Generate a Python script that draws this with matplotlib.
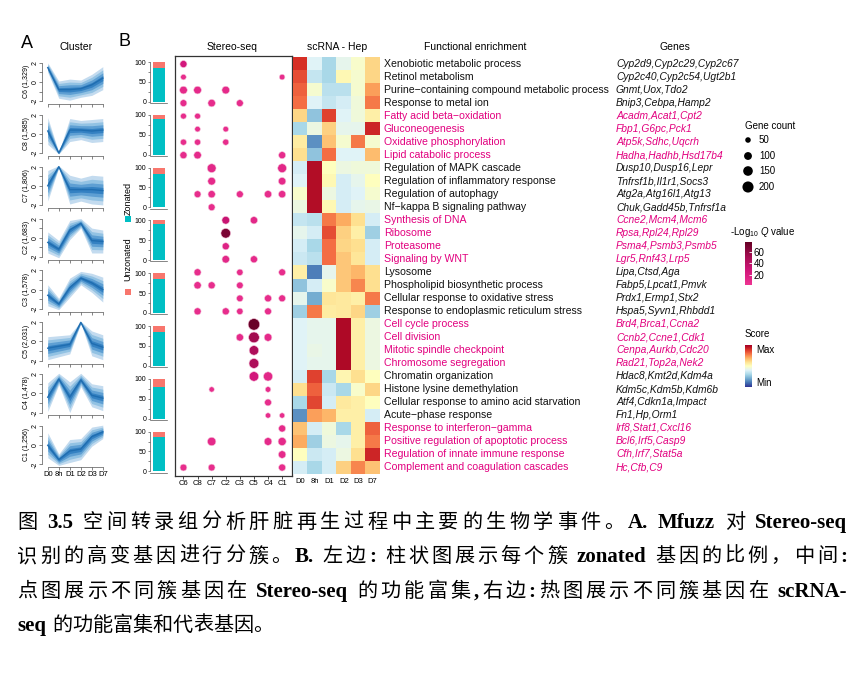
import numpy as np
import matplotlib
matplotlib.use('Agg')
import matplotlib.pyplot as plt
from matplotlib.colors import LinearSegmentedColormap, Normalize
from matplotlib.cm import ScalarMappable

plt.rcParams['font.family'] = ['Liberation Sans', 'DejaVu Sans']
plt.rcParams['mathtext.fontset'] = 'custom'
plt.rcParams['mathtext.rm'] = 'Liberation Sans'
plt.rcParams['mathtext.it'] = 'Liberation Sans:italic'

# ---------------- data ----------------
clusters = ['C6', 'C8', 'C7', 'C2', 'C3', 'C5', 'C4', 'C1']
cluster_sizes = ['1,329', '1,585', '1,806', '1,683', '1,578', '2,031', '1,478', '1,256']
timepoints = ['D0', '8h', 'D1', 'D2', 'D3', 'D7']

profile_C6 = [1.5, -0.8, -0.8, -0.7, -0.3, 0.4]
profile_C8 = [0.3, -2.0, 0.4, 0.4, 0.3, 0.4]
profile_C7 = [0.0, 2.0, -0.4, -0.4, -0.4, -0.5]
profile_C2 = [-0.5, -1.2, 0.8, 1.5, -0.3, -0.4]
profile_C3 = [-0.6, -1.5, 0.2, 1.2, 0.7, 0.0]
profile_C5 = [-0.7, -0.5, -0.3, 2.0, -0.2, -0.6]
profile_C4 = [-0.4, 1.5, -0.4, 1.4, -0.2, -0.5]
profile_C1 = [0.0, -1.5, -0.6, -0.4, 0.9, 1.4]

spread_C6 = [0.5, 0.9, 1.1, 0.9, 1.1, 1.2]
spread_C8 = [1.4, 0.1, 1.2, 1.0, 1.2, 1.2]
spread_C7 = [1.6, 0.1, 1.5, 1.2, 1.5, 1.5]
spread_C2 = [1.1, 0.9, 1.0, 0.5, 1.3, 1.2]
spread_C3 = [1.1, 0.6, 1.0, 0.7, 1.0, 1.3]
spread_C5 = [1.2, 1.1, 1.0, 0.1, 1.3, 1.3]
spread_C4 = [1.5, 0.6, 1.6, 0.7, 1.2, 1.3]
spread_C1 = [1.3, 0.6, 1.2, 1.1, 1.0, 0.7]

profiles = [profile_C6, profile_C8, profile_C7, profile_C2, profile_C3, profile_C5, profile_C4, profile_C1]
spreads = [spread_C6, spread_C8, spread_C7, spread_C2, spread_C3, spread_C5, spread_C4, spread_C1]

zonated_pct = [85, 89, 84, 91, 86, 84, 80, 86]

terms = [
    'Xenobiotic metabolic process', 'Retinol metabolism',
    'Purine\u2212containing compound metabolic process', 'Response to metal ion',
    'Fatty acid beta\u2212oxidation', 'Gluconeogenesis', 'Oxidative phosphorylation',
    'Lipid catabolic process', 'Regulation of MAPK cascade',
    'Regulation of inflammatory response', 'Regulation of autophagy',
    'Nf\u2212kappa B signaling pathway', 'Synthesis of DNA', 'Ribosome', 'Proteasome',
    'Signaling by WNT', 'Lysosome', 'Phospholipid biosynthetic process',
    'Cellular response to oxidative stress', 'Response to endoplasmic reticulum stress',
    'Cell cycle process', 'Cell division', 'Mitotic spindle checkpoint',
    'Chromosome segregation', 'Chromatin organization', 'Histone lysine demethylation',
    'Cellular response to amino acid starvation', 'Acute\u2212phase response',
    'Response to interferon\u2212gamma', 'Positive regulation of apoptotic process',
    'Regulation of innate immune response', 'Complement and coagulation cascades']

genes = [
    'Cyp2d9,Cyp2c29,Cyp2c67', 'Cyp2c40,Cyp2c54,Ugt2b1', 'Gnmt,Uox,Tdo2', 'Bnip3,Cebpa,Hamp2',
    'Acadm,Acat1,Cpt2', 'Fbp1,G6pc,Pck1', 'Atp5k,Sdhc,Uqcrh', 'Hadha,Hadhb,Hsd17b4',
    'Dusp10,Dusp16,Lepr', 'Tnfrsf1b,Il1r1,Socs3', 'Atg2a,Atg16l1,Atg13', 'Chuk,Gadd45b,Tnfrsf1a',
    'Ccne2,Mcm4,Mcm6', 'Rpsa,Rpl24,Rpl29', 'Psma4,Psmb3,Psmb5', 'Lgr5,Rnf43,Lrp5',
    'Lipa,Ctsd,Aga', 'Fabp5,Lpcat1,Pmvk', 'Prdx1,Ermp1,Stx2', 'Hspa5,Syvn1,Rhbdd1',
    'Brd4,Brca1,Ccna2', 'Ccnb2,Ccne1,Cdk1', 'Cenpa,Aurkb,Cdc20', 'Rad21,Top2a,Nek2',
    'Hdac8,Kmt2d,Kdm4a', 'Kdm5c,Kdm5b,Kdm6b', 'Atf4,Cdkn1a,Impact', 'Fn1,Hp,Orm1',
    'Irf8,Stat1,Cxcl16', 'Bcl6,Irf5,Casp9', 'Cfh,Irf7,Stat5a', 'Hc,Cfb,C9']

highlight_terms = [4, 5, 6, 7, 12, 13, 14, 15, 20, 21, 22, 23, 28, 29, 30, 31]

dot_row = [0, 1, 1, 2, 2, 2, 3, 3, 3, 4, 4, 5, 5, 6, 6, 6, 7, 7, 7, 8, 8, 9, 9,
           10, 10, 10, 10, 10, 11, 12, 12, 13, 14, 15, 15, 16, 16, 16, 17, 17, 17,
           18, 18, 18, 19, 19, 19, 19, 20, 21, 21, 21, 22, 23, 24, 24, 25, 25, 26,
           27, 27, 28, 29, 29, 29, 30, 31, 31, 31]
dot_cluster = ['C6', 'C6', 'C1', 'C6', 'C8', 'C2', 'C6', 'C7', 'C3', 'C6', 'C8', 'C8', 'C2',
               'C6', 'C8', 'C2', 'C6', 'C8', 'C1', 'C7', 'C1', 'C7', 'C1',
               'C8', 'C7', 'C3', 'C4', 'C1', 'C7', 'C2', 'C5', 'C2', 'C2', 'C2', 'C5',
               'C8', 'C3', 'C1', 'C8', 'C7', 'C3', 'C3', 'C4', 'C1', 'C8', 'C2', 'C3', 'C4',
               'C5', 'C3', 'C5', 'C4', 'C5', 'C5', 'C5', 'C4', 'C7', 'C4', 'C4',
               'C4', 'C1', 'C1', 'C7', 'C4', 'C1', 'C1', 'C6', 'C7', 'C1']
dot_count = [80, 50, 50, 95, 95, 95, 75, 90, 75, 55, 55, 50, 50, 60, 60, 60, 80, 90, 80,
             125, 125, 95, 90, 75, 85, 75, 85, 85, 75, 95, 85, 150, 80, 90, 80,
             80, 65, 75, 85, 80, 70, 70, 80, 75, 80, 80, 65, 75,
             215, 85, 185, 95, 145, 155, 145, 135, 45, 50, 75,
             45, 45, 80, 115, 95, 105, 90, 75, 75, 80]
dot_q = [25, 8, 8, 10, 10, 10, 9, 9, 9, 8, 8, 7, 7, 8, 8, 8, 9, 10, 9,
         12, 12, 10, 10, 8, 8, 8, 8, 8, 8, 32, 12, 68, 16, 12, 10,
         8, 8, 8, 8, 8, 8, 8, 8, 8, 8, 8, 8, 8,
         75, 10, 52, 10, 46, 46, 26, 12, 8, 8, 8,
         8, 8, 10, 10, 10, 10, 10, 8, 8, 8]

score_rows = [
    [0.90, 0.40, 0.30, 0.42, 0.48, 0.62],
    [0.85, 0.35, 0.30, 0.52, 0.47, 0.62],
    [0.82, 0.47, 0.33, 0.33, 0.47, 0.72],
    [0.80, 0.40, 0.35, 0.38, 0.45, 0.78],
    [0.62, 0.25, 0.87, 0.40, 0.45, 0.55],
    [0.30, 0.44, 0.63, 0.42, 0.42, 0.92],
    [0.56, 0.15, 0.66, 0.47, 0.78, 0.47],
    [0.60, 0.25, 0.80, 0.40, 0.40, 0.67],
    [0.38, 0.97, 0.50, 0.44, 0.45, 0.45],
    [0.40, 0.97, 0.52, 0.38, 0.42, 0.50],
    [0.48, 0.97, 0.44, 0.38, 0.40, 0.47],
    [0.44, 0.97, 0.52, 0.38, 0.42, 0.43],
    [0.35, 0.33, 0.78, 0.70, 0.60, 0.38],
    [0.42, 0.38, 0.85, 0.63, 0.55, 0.28],
    [0.38, 0.30, 0.80, 0.62, 0.60, 0.38],
    [0.36, 0.33, 0.80, 0.65, 0.58, 0.38],
    [0.55, 0.12, 0.42, 0.65, 0.68, 0.60],
    [0.25, 0.38, 0.48, 0.65, 0.76, 0.60],
    [0.42, 0.20, 0.58, 0.57, 0.55, 0.78],
    [0.28, 0.78, 0.56, 0.57, 0.62, 0.28],
    [0.40, 0.42, 0.42, 0.98, 0.55, 0.44],
    [0.40, 0.42, 0.42, 0.98, 0.55, 0.44],
    [0.40, 0.43, 0.42, 0.98, 0.55, 0.44],
    [0.40, 0.42, 0.42, 0.98, 0.55, 0.44],
    [0.38, 0.87, 0.30, 0.53, 0.60, 0.50],
    [0.60, 0.82, 0.36, 0.30, 0.48, 0.62],
    [0.30, 0.86, 0.38, 0.57, 0.55, 0.50],
    [0.15, 0.72, 0.68, 0.55, 0.55, 0.38],
    [0.66, 0.38, 0.45, 0.30, 0.55, 0.82],
    [0.70, 0.28, 0.44, 0.42, 0.55, 0.78],
    [0.50, 0.36, 0.38, 0.44, 0.60, 0.92],
    [0.38, 0.30, 0.38, 0.63, 0.76, 0.66]]

legend_counts = [50, 100, 150, 200]
q_ticks = [20, 40, 60]

caption_lines = [
    '图 3.5 空间转录组分析肝脏再生过程中主要的生物学事件。A. Mfuzz 对 Stereo-seq',
    '识别的高变基因进行分簇。B. 左边: 柱状图展示每个簇 zonated 基因的比例，中间:',
    '点图展示不同簇基因在 Stereo-seq 的功能富集,右边:热图展示不同簇基因在 scRNA-',
    'seq 的功能富集和代表基因。']

# ---------------- style ----------------
W, H = 865, 675
PINK = '#E2007F'
TEAL = '#00BFC4'
SALMON = '#F8766D'
band_colors = ['#c3dbef', '#92c2e3', '#5e9fd3', '#3481c2']
band_levels = [1.0, 0.72, 0.46, 0.22]
line_color = '#1f6db0'
cmap_q = LinearSegmentedColormap.from_list('q', ['#EE3492', '#D1167A', '#A30C50', '#650024'])
q_norm = Normalize(2, 77)

fig = plt.figure(figsize=(W / 100, H / 100), dpi=100)


def ax_px(x0, y0, x1, y1):
    return fig.add_axes([x0 / W, 1 - y1 / H, (x1 - x0) / W, (y1 - y0) / H])


def ftxt(x, y, s, **kw):
    return fig.text(x / W, 1 - y / H, s, **kw)


# ---------------- panel A ----------------
ftxt(27, 44, 'A', fontsize=13, ha='center', va='center')
ftxt(76, 47, 'Cluster', fontsize=7.5, ha='center', va='center')
xt = np.arange(len(timepoints))
for i, (name, size, cen, spr) in enumerate(zip(clusters, cluster_sizes, profiles, spreads)):
    bottom = 104 + 51.9 * i
    ax = ax_px(45, bottom - 45, 105, bottom)
    cen = np.array(cen)
    spr = np.array(spr)
    for f, col in zip(band_levels, band_colors):
        ax.fill_between(xt, cen - f * spr, cen + f * spr, color=col, lw=0)
    ax.plot(xt, cen, color=line_color, lw=1.0)
    ax.set_xlim(-0.25, 5.2)
    ax.set_ylim(-2.3, 2.4)
    for s in ['top', 'right']:
        ax.spines[s].set_visible(False)
    ax.spines['left'].set_position(('outward', 2))
    ax.spines['left'].set_bounds(-2, 2)
    ax.spines['bottom'].set_bounds(0, 5)
    for s in ['left', 'bottom']:
        ax.spines[s].set_linewidth(0.5)
        ax.spines[s].set_color('#555555')
    ax.set_yticks([-2, -1, 0, 1, 2])
    ax.set_yticklabels(['-2', '', '0', '', '2'])
    ax.tick_params(axis='y', labelsize=5, length=2, width=0.5, pad=0.5, labelrotation=90,
                   color='#555555')
    for lab in ax.get_yticklabels():
        lab.set_va('center')
    ax.set_xticks(xt)
    if i == len(clusters) - 1:
        ax.set_xticklabels(timepoints)
    else:
        ax.set_xticklabels([])
    ax.tick_params(axis='x', labelsize=5.5, length=2, width=0.5, pad=1, color='#555555')
    ax.set_ylabel(f'{name} ({size})', fontsize=5, labelpad=1)

# ---------------- panel B: bars ----------------
ftxt(124, 42, 'B', fontsize=13, ha='center', va='center')
for i, pct in enumerate(zonated_pct):
    zero = 101 + 52.8 * i
    ax = ax_px(150, zero + 1.9 - 44, 167, zero + 1.9)
    ax.bar(0, pct, width=1, color=TEAL, lw=0)
    ax.bar(0, 100 - pct, bottom=pct, width=1, color=SALMON, lw=0)
    ax.set_xlim(-0.75, 0.67)
    ax.set_ylim(-3, 108)
    for s in ['top', 'right']:
        ax.spines[s].set_visible(False)
    ax.spines['left'].set_bounds(0, 100)
    for s in ['left', 'bottom']:
        ax.spines[s].set_linewidth(0.5)
        ax.spines[s].set_color('#555555')
    ax.set_yticks([0, 50, 100])
    ax.set_yticks([25, 75], minor=True)
    ax.tick_params(axis='y', which='both', labelsize=5, length=1.5, width=0.5, pad=1,
                   color='#555555')
    ax.set_xticks([])

# legend for bars
ftxt(128, 198, 'Zonated', rotation=90, fontsize=6.5, ha='center', va='center')
ftxt(128, 259, 'Unzonated', rotation=90, fontsize=6.5, ha='center', va='center')

# ---------------- dot plot ----------------
axd = ax_px(175, 56, 292, 476)
cl_index = {c: k for k, c in enumerate(clusters)}
dx = [cl_index[c] for c in dot_cluster]
axd.scatter(dx, dot_row, s=np.array(dot_count) * 0.32, c=dot_q, cmap=cmap_q, norm=q_norm,
            edgecolors='#f7c3dc', linewidths=0.4, zorder=3)
axd.set_xlim(-0.6, 7.7)
axd.set_ylim(31.65, -0.62)
axd.set_xticks(range(len(clusters)))
axd.set_xticklabels(clusters)
axd.tick_params(axis='x', labelsize=5.5, length=2, width=0.5, pad=1)
axd.yaxis.tick_right()
axd.set_yticks(range(len(terms)))
axd.set_yticklabels([])
axd.tick_params(axis='y', length=2, width=0.5, color='#888888')
for s in axd.spines.values():
    s.set_linewidth(0.9)
    s.set_color('#333333')
ftxt(232, 47, 'Stereo-seq', fontsize=7.5, ha='center', va='center')

# ---------------- heatmap ----------------
axh = ax_px(293, 57, 380, 474)
axh.imshow(np.array(score_rows), cmap='RdYlBu_r', vmin=0, vmax=1, aspect='auto',
           interpolation='nearest')
axh.set_xticks(range(len(timepoints)))
axh.set_xticklabels(timepoints)
axh.tick_params(axis='x', labelsize=5.5, length=0, pad=3)
axh.set_yticks([])
for s in axh.spines.values():
    s.set_visible(False)
ftxt(337, 47, 'scRNA - Hep', fontsize=7.5, ha='center', va='center')

# ---------------- term and gene labels ----------------
ftxt(475, 47, 'Functional enrichment', fontsize=7.5, ha='center', va='center')
ftxt(675, 47, 'Genes', fontsize=7.5, ha='center', va='center')
for i, (t, g) in enumerate(zip(terms, genes)):
    col = PINK if i in highlight_terms else '#111111'
    y = 64 + 13.0 * i
    ftxt(384, y, t, fontsize=7.6, color=col, va='center', ha='left')
    ftxt(616, y, g, fontsize=7.4, color=col, va='center', ha='left', style='italic')

# ---------------- legends ----------------
ov = fig.add_axes([0, 0, 1, 1])
ov.set_xlim(0, W)
ov.set_ylim(H, 0)
ov.axis('off')
ov.patch.set_alpha(0)
ov.scatter([128, 128], [219, 292], marker='s', s=14, color=[TEAL, SALMON], lw=0)
ftxt(770, 126, 'Gene count', fontsize=7, ha='center', va='center')
leg_y = [140, 156, 171, 187]
ov.scatter([748] * 4, leg_y, s=np.array(legend_counts) * 0.32, color='black', lw=0)
for yy, c in zip(leg_y, legend_counts):
    ftxt(759, yy, str(c), fontsize=7, va='center', ha='left')

ftxt(730, 232, r'-Log$_{10}$ $Q$ value', fontsize=7, va='center', ha='left')
caxq = ax_px(745, 242, 752, 285)
cbq = fig.colorbar(ScalarMappable(norm=q_norm, cmap=cmap_q), cax=caxq, ticks=q_ticks)
cbq.outline.set_visible(False)
caxq.tick_params(labelsize=7, length=2.5, width=0.6, color='white', direction='in', pad=1)

ftxt(745, 334, 'Score', fontsize=7, va='center', ha='left')
caxs = ax_px(745, 345, 752, 387)
grad = np.linspace(1, 0, 100).reshape(-1, 1)
caxs.imshow(grad, cmap='RdYlBu_r', aspect='auto', vmin=0, vmax=1)
caxs.set_xticks([])
caxs.set_yticks([])
for s in caxs.spines.values():
    s.set_visible(False)
ftxt(756, 350, 'Max', fontsize=7, va='center', ha='left')
ftxt(756, 383, 'Min', fontsize=7, va='center', ha='left')

# ---------------- caption ----------------
CJK_FONT = ['Noto Sans CJK SC', 'DejaVu Sans']
LAT_FONT = ['Liberation Serif', 'DejaVu Serif']
CAP_FS = 15


def tokenize(s):
    toks = []
    i = 0
    while i < len(s):
        c = s[i]
        if c == ' ':
            toks.append(('sp', c))
            i += 1
        elif ord(c) < 128:
            j = i
            while j < len(s) and ord(s[j]) < 128 and s[j] != ' ':
                j += 1
            toks.append(('lat', s[i:j]))
            i = j
        else:
            toks.append(('cjk', c))
            i += 1
    return toks


renderer = fig.canvas.get_renderer()
space_w = CAP_FS * 100 / 72 * 0.3


def draw_line(s, x0, ybase, x1=None):
    toks = tokenize(s)
    items = []
    gap = 0
    for kind, t in toks:
        if kind == 'sp':
            gap += space_w
            continue
        if kind == 'lat':
            obj = ftxt(0, ybase, t, fontsize=CAP_FS, family=LAT_FONT, weight='bold',
                       va='baseline', ha='left')
        else:
            obj = ftxt(0, ybase, t, fontsize=CAP_FS - 0.5, family=CJK_FONT,
                       va='baseline', ha='left')
        w = obj.get_window_extent(renderer).width
        items.append([obj, w, gap if items else 0])
        gap = 0
    total = sum(it[1] + it[2] for it in items)
    extra = 0
    if x1 is not None and len(items) > 1:
        extra = max(0, (x1 - x0 - total) / (len(items) - 1))
    x = x0
    for k, (obj, w, g) in enumerate(items):
        if k > 0:
            x += g + extra
        obj.set_x(x / W)
        x += w


cap_y = [528, 562, 597, 631]
for k, line in enumerate(caption_lines):
    draw_line(line, 17, cap_y[k], 847 if k < 3 else None)

fig.savefig('out.png', dpi=100)
